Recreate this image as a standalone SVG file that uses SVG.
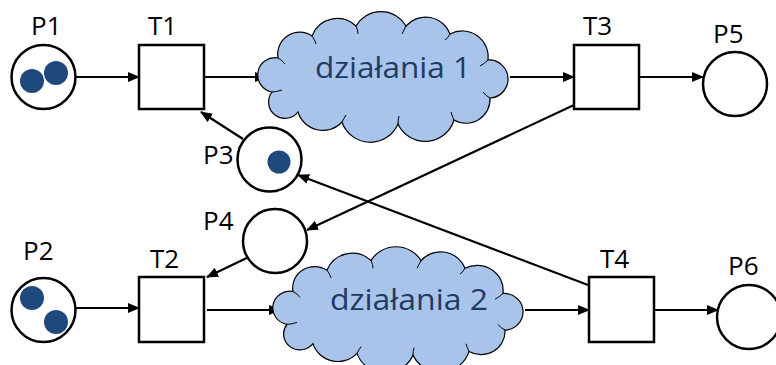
<svg xmlns="http://www.w3.org/2000/svg" width="776" height="365" viewBox="0 0 776 365">
<style>
.place{fill:#fff;stroke:#000;stroke-width:2.5}
.trans{fill:#fff;stroke:#000;stroke-width:2.5}
.tok{fill:#1F487C}
.lbl{font-family:"Open Sans","Liberation Sans",sans-serif;font-size:26px;fill:#000}
.cloud{fill:#A9C4EA;stroke:#000;stroke-width:1.2}
.crease{fill:none;stroke:#000;stroke-width:1}
.ctext{font-family:"Open Sans","Liberation Sans",sans-serif;font-size:30px;fill:#1F3B63}
.arc{fill:none;stroke:#000;stroke-width:2.2;marker-end:url(#ah)}
</style>
<defs>
<marker id="ah" markerUnits="userSpaceOnUse" markerWidth="12" markerHeight="10" refX="11" refY="5" orient="auto">
<path d="M0,0 L12,5 L0,10 Z" fill="#000"/>
</marker>
<g id="cloudShape">
<path class="cloud" d="M14,80 A17,17 0 0 1 20,46 A22,22 0 0 1 54,24 A27,27 0 0 1 98,14 A29,29 0 0 1 148,14 A26,26 0 0 1 192,22 A26,26 0 0 1 230,48 A19,19 0 0 1 232,86 A24,24 0 0 1 196,108 A30,30 0 0 1 140,112 A30,30 0 0 1 84,110 A26,26 0 0 1 40,100 A14,14 0 0 1 14,80 Z"/>
<path class="crease" d="M20,46 Q24,48 27,52 M54,24 Q57,28 58,32 M98,14 Q100,18 100,22 M148,14 Q146,18 144,22 M192,22 Q190,26 187,28 M230,48 Q226,52 222,54 M232,86 Q228,84 225,80 M196,108 Q194,104 193,100 M140,112 Q140,108 141,104 M84,110 Q86,106 88,103 M14,80 Q18,80 24,78"/>
</g>
</defs>
<g id="connectors">
<path class="arc" d="M76,77 L139,77"/>
<path class="arc" d="M204,77 L266,77"/>
<path class="arc" d="M510,77 L574,77"/>
<path class="arc" d="M639,77 L703,77"/>
<path class="arc" d="M243,139 L201,112"/>
<path class="arc" d="M574,105 L307,230"/>
<path class="arc" d="M588,285 L298,175"/>
<path class="arc" d="M253,255 L207,277"/>
<path class="arc" d="M76,308 L139,308"/>
<path class="arc" d="M207,310 L280,310"/>
<path class="arc" d="M525,310 L589,310"/>
<path class="arc" d="M654,310 L718,310"/>
</g>
<g id="P1">
<circle class="place" cx="43.5" cy="77" r="32"/>
<circle class="tok" cx="32" cy="81" r="12"/>
<circle class="tok" cx="56" cy="73" r="12"/>
<text class="lbl" x="31" y="35">P1</text>
</g>
<g id="T1">
<rect class="trans" x="139" y="45" width="65" height="64"/>
<text class="lbl" x="148" y="35">T1</text>
</g>
<g id="cloud1">
<use href="#cloudShape" transform="translate(258,12)"/>
<text class="ctext" x="315" y="78" textLength="156" lengthAdjust="spacingAndGlyphs">działania 1</text>
</g>
<g id="T3">
<rect class="trans" x="574" y="45" width="65" height="64"/>
<text class="lbl" x="583" y="35">T3</text>
</g>
<g id="P5">
<circle class="place" cx="735" cy="84" r="32"/>
<text class="lbl" x="713" y="43">P5</text>
</g>
<g id="P3">
<circle class="place" cx="269.5" cy="159.5" r="32"/>
<circle class="tok" cx="279" cy="162" r="11.5"/>
<text class="lbl" x="203" y="164">P3</text>
</g>
<g id="P4">
<circle class="place" cx="275" cy="241" r="32"/>
<text class="lbl" x="203" y="230">P4</text>
</g>
<g id="P2">
<circle class="place" cx="43.5" cy="310" r="32"/>
<circle class="tok" cx="32" cy="298" r="12"/>
<circle class="tok" cx="56" cy="322" r="12"/>
<text class="lbl" x="23" y="260">P2</text>
</g>
<g id="T2">
<rect class="trans" x="139" y="277" width="65" height="65"/>
<text class="lbl" x="150" y="268">T2</text>
</g>
<g id="cloud2">
<use href="#cloudShape" transform="translate(273,247) scale(1,0.967)"/>
<text class="ctext" x="330" y="310" textLength="158" lengthAdjust="spacingAndGlyphs">działania 2</text>
</g>
<g id="T4">
<rect class="trans" x="589" y="277" width="65" height="65"/>
<text class="lbl" x="600" y="268">T4</text>
</g>
<g id="P6">
<circle class="place" cx="749" cy="317" r="32"/>
<text class="lbl" x="728" y="275">P6</text>
</g>
</svg>
